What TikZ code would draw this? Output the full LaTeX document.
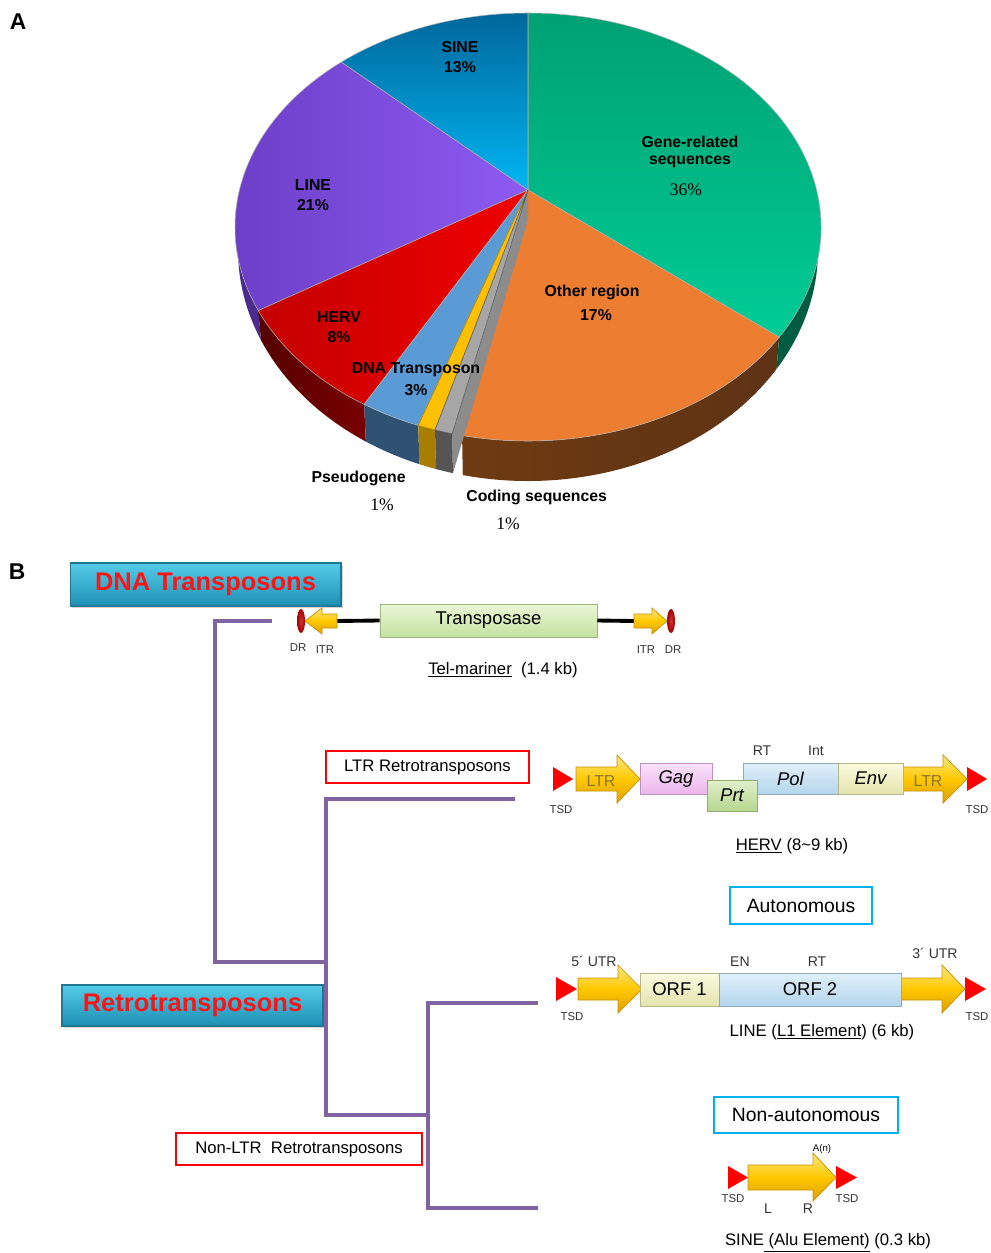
\documentclass[tikz,border=0pt]{standalone}
\usepackage{fontspec}
\setmainfont{Liberation Sans}
\newfontfamily\pctfont{Liberation Serif}
\usetikzlibrary{calc,shadows}

\definecolor{sinetop}{HTML}{00679B}
\definecolor{sinebot}{HTML}{00B6F2}
\definecolor{lineleft}{HTML}{6A3CC4}
\definecolor{lineright}{HTML}{8D5BF2}
\definecolor{lineside}{HTML}{4B2C8E}
\definecolor{hervleft}{HTML}{C40000}
\definecolor{hervright}{HTML}{F00000}
\definecolor{hervside}{HTML}{7A0000}
\definecolor{dnatop}{HTML}{5B9BD5}
\definecolor{dnaside}{HTML}{2F5272}
\definecolor{pseudotop}{HTML}{FFC000}
\definecolor{pseudoside}{HTML}{A87E00}
\definecolor{codetop}{HTML}{A6A6A6}
\definecolor{codeside}{HTML}{555555}
\definecolor{codeface}{HTML}{8C8C8C}
\definecolor{othertop}{HTML}{ED7D31}
\definecolor{otherside}{HTML}{5E3314}
\definecolor{genetop}{HTML}{00A173}
\definecolor{genebot}{HTML}{00CC95}
\definecolor{geneside}{HTML}{005C40}
\definecolor{treeline}{HTML}{8064A2}
\definecolor{tealtop}{HTML}{55CBE8}
\definecolor{tealbot}{HTML}{1E90B4}
\definecolor{tealedge}{HTML}{1D7896}
\definecolor{titlered}{HTML}{FF1414}
\definecolor{classred}{HTML}{FF0000}
\definecolor{autocyan}{HTML}{00B0F0}
\definecolor{arrtop}{HTML}{FFE680}
\definecolor{arrmid}{HTML}{FFC800}
\definecolor{arrbot}{HTML}{DCA000}
\definecolor{arredge}{HTML}{C69000}
\definecolor{tsdred}{HTML}{FF0000}
\definecolor{drred}{HTML}{C00000}
\definecolor{ltrtext}{HTML}{8A7430}
\definecolor{transtop}{HTML}{EAF7D6}
\definecolor{transbot}{HTML}{C4E2A0}
\definecolor{gagtop}{HTML}{FBE2FB}
\definecolor{gagbot}{HTML}{EBB6EB}
\definecolor{prttop}{HTML}{E0F0CA}
\definecolor{prtbot}{HTML}{B5D78F}
\definecolor{poltop}{HTML}{E0F0FA}
\definecolor{polbot}{HTML}{B4D5EC}
\definecolor{envtop}{HTML}{FAFAE0}
\definecolor{envbot}{HTML}{E4E4AE}

\begin{document}
\begin{tikzpicture}[x=0.02cm,y=0.02cm]
\tikzstyle{every node}+=[inner sep=0pt]
\tikzstyle{plbl}=[font=\bfseries\fontsize{9}{10}\selectfont]
\tikzstyle{ppct}=[font=\pctfont\fontsize{10}{12}\selectfont]
\tikzstyle{panel}=[font=\bfseries\fontsize{13}{15}\selectfont]
\tikzstyle{tree}=[draw=treeline, line width=2pt]
\tikzstyle{tealbox}=[top color=tealtop, bottom color=tealbot, draw=tealedge, line width=0.6pt, text=titlered, font=\bfseries\fontsize{14.5}{16}\selectfont, drop shadow={shadow xshift=1.2pt, shadow yshift=-1.2pt, opacity=0.35}]
\tikzstyle{classbox}=[draw=classred, line width=1.4pt, fill=white, font=\fontsize{9.5}{11}\selectfont]
\tikzstyle{autobox}=[draw=autocyan, line width=1.5pt, fill=white, font=\fontsize{11}{13}\selectfont]
\tikzstyle{gbox}=[line width=0.4pt, minimum height=0.62cm, font=\fontsize{10.5}{12}\selectfont\itshape]
\tikzstyle{yarr}=[top color=arrtop, bottom color=arrbot, middle color=arrmid, draw=arredge, line width=0.4pt]
\tikzstyle{tsd}=[fill=tsdred]
\tikzstyle{lbltiny}=[font=\fontsize{6.5}{8}\selectfont, text=black!80]
\tikzstyle{lblsmall}=[font=\fontsize{8}{9}\selectfont, text=black!80]
\tikzstyle{captxt}=[font=\fontsize{9.5}{11}\selectfont]
\useasboundingbox (0,0) rectangle (990,-1253);

\node[panel] (pA) at (18,-22) {A};
\node[panel] (pB) at (17,-572) {B};

\coordinate (pc) at (528,-227);
\coordinate (pb) at (528,-250);
\coordinate (pa) at (528,-190);

\fill[lineside] ($(pc)+(180:293 and 214)$) arc[start angle=180, end angle=203, x radius=293, y radius=214] -- ($(pb)+(203:290 and 231)$) arc[start angle=203, end angle=180, x radius=290, y radius=231] -- cycle;
\shade[left color=hervside!70!black, right color=hervside] ($(pc)+(203:293 and 214)$) arc[start angle=203, end angle=236, x radius=293, y radius=214] -- ($(pb)+(236:290 and 231)$) arc[start angle=236, end angle=203, x radius=290, y radius=231] -- cycle;
\fill[dnaside] ($(pc)+(236:293 and 214)$) arc[start angle=236, end angle=248, x radius=293, y radius=214] -- ($(pb)+(248:290 and 231)$) arc[start angle=248, end angle=236, x radius=290, y radius=231] -- cycle;
\shade[left color=otherside!90!orange, right color=otherside] ($(pc)+(257:293 and 214)$) arc[start angle=257, end angle=329, x radius=293, y radius=214] -- ($(pb)+(329:290 and 231)$) arc[start angle=329, end angle=257, x radius=290, y radius=231] -- cycle;
\fill[geneside] ($(pc)+(329:293 and 214)$) arc[start angle=329, end angle=360, x radius=293, y radius=214] -- ($(pb)+(360:290 and 231)$) arc[start angle=360, end angle=329, x radius=290, y radius=231] -- cycle;

\shadedraw[top color=genetop, bottom color=genebot, draw=black!30, line width=0.3pt] (pa) -- ($(pc)+(329:293 and 214)$) arc[start angle=329, end angle=450, x radius=293, y radius=214] -- cycle;
\shadedraw[top color=sinetop, bottom color=sinebot, draw=black!30, line width=0.3pt] (pa) -- ($(pc)+(90:293 and 214)$) arc[start angle=90, end angle=129.6, x radius=293, y radius=214] -- cycle;
\shadedraw[left color=lineleft, right color=lineright, draw=black!30, line width=0.3pt] (pa) -- ($(pc)+(129.6:293 and 214)$) arc[start angle=129.6, end angle=203, x radius=293, y radius=214] -- cycle;
\shadedraw[left color=hervleft, right color=hervright, draw=black!30, line width=0.3pt] (pa) -- ($(pc)+(203:293 and 214)$) arc[start angle=203, end angle=236, x radius=293, y radius=214] -- cycle;
\filldraw[fill=dnatop, draw=black!30, line width=0.3pt] (pa) -- ($(pc)+(236:293 and 214)$) arc[start angle=236, end angle=248, x radius=293, y radius=214] -- cycle;
\filldraw[fill=othertop, draw=black!30, line width=0.3pt] (pa) -- ($(pc)+(257:293 and 214)$) arc[start angle=257, end angle=329, x radius=293, y radius=214] -- cycle;

\begin{scope}[shift={(-6,-33)}]
\fill[pseudoside] ($(pc)+(248:293 and 214)$) arc[start angle=248, end angle=251.5, x radius=293, y radius=214] -- ($(pb)+(251.5:290 and 231)$) arc[start angle=251.5, end angle=248, x radius=290, y radius=231] -- cycle;
\filldraw[fill=pseudotop, draw=pseudoside, line width=0.3pt] (pa) -- ($(pc)+(248:293 and 214)$) arc[start angle=248, end angle=251.5, x radius=293, y radius=214] -- cycle;
\end{scope}
\begin{scope}[shift={(-2,-42)}]
\fill[codeface] (pa) -- ($(pc)+(255:293 and 214)$) -- ($(pb)+(255:290 and 231)$) -- ($(pa)+(0,-30)$) -- cycle;
\fill[codeside] ($(pc)+(251.5:293 and 214)$) arc[start angle=251.5, end angle=255, x radius=293, y radius=214] -- ($(pb)+(255:290 and 231)$) arc[start angle=255, end angle=251.5, x radius=290, y radius=231] -- cycle;
\filldraw[fill=codetop, draw=codeside, line width=0.3pt] (pa) -- ($(pc)+(251.5:293 and 214)$) arc[start angle=251.5, end angle=255, x radius=293, y radius=214] -- cycle;
\end{scope}

\node[plbl] (sine) at (460,-47) {SINE};
\node[plbl] (sinep) at (460,-67) {13\%};
\node[plbl] (gene) at (690,-142) {Gene-related};
\node[plbl] (gene2) at (690,-162) {sequences};
\node[ppct] (genep) at (686,-190) {36\%};
\node[plbl] (line) at (313,-185) {LINE};
\node[plbl] (linep) at (313,-205) {21\%};
\node[plbl] (other) at (592,-292) {Other region};
\node[plbl] (otherp) at (596,-315) {17\%};
\node[plbl] (herv) at (339,-317) {HERV};
\node[plbl] (hervp) at (339,-337) {8\%};
\node[plbl] (dna) at (416,-370) {DNA Transposon};
\node[plbl] (dnap) at (416,-390) {3\%};
\node[plbl, anchor=east] (pseudo) at (406,-478) {Pseudogene};
\node[ppct] (pseudop) at (382,-505) {1\%};
\node[plbl, anchor=west] (coding) at (466,-497) {Coding sequences};
\node[ppct] (codingp) at (508,-524) {1\%};

\node[tealbox, minimum width=5.42cm, minimum height=0.86cm] (dnat) at (205.5,-584.5) {DNA Transposons};
\node[tealbox, minimum width=5.22cm, minimum height=0.82cm] (retro) at (192.5,-1005.5) {Retrotransposons};
\node[classbox, minimum width=4.06cm, minimum height=0.64cm] (ltrr) at (427.5,-767) {LTR Retrotransposons};
\node[classbox, minimum width=4.92cm, minimum height=0.64cm] (nonltr) at (299,-1149) {Non-LTR\ \ Retrotransposons};
\node[autobox, minimum width=2.84cm, minimum height=0.74cm] (auto) at (801,-905.5) {Autonomous};
\node[autobox, minimum width=3.68cm, minimum height=0.72cm] (nonauto) at (806,-1115) {Non-autonomous};

\coordinate (d1) at (272,-621);
\coordinate (d2) at (215,-621);
\coordinate (d3) at (215,-962);
\coordinate (d4) at (326,-962);
\coordinate (m1) at (515,-799);
\coordinate (m2) at (326,-799);
\coordinate (m3) at (326,-1115);
\coordinate (m4) at (428,-1115);
\coordinate (n1) at (538,-1003);
\coordinate (n2) at (428,-1003);
\coordinate (n3) at (428,-1208);
\coordinate (n4) at (538,-1208);
\draw[tree] (d1) -- (d2) -- (d3) -- (d4);
\draw[tree] (m1) -- (m2) -- (m3) -- (m4);
\draw[tree] (n1) -- (n2) -- (n3) -- (n4);

\node[gbox, top color=transtop, bottom color=transbot, draw=transbot!80!black, minimum width=4.34cm, minimum height=0.66cm, font=\fontsize{10.5}{12}\selectfont] (tps) at (488.5,-620.5) {Transposase};
\coordinate (itrl) at (337,-621);
\coordinate (itrr) at (634,-621);
\draw[line width=2.2pt] (itrl) -- (tps.west);
\draw[line width=2.2pt] (tps.east) -- (itrr);
\shadedraw[yarr] (337,-614) -- (322,-614) -- (322,-608) -- (305,-621) -- (322,-634) -- (322,-628) -- (337,-628) -- cycle;
\shadedraw[yarr] (634,-614) -- (652,-614) -- (652,-608) -- (667,-621) -- (652,-634) -- (652,-628) -- (634,-628) -- cycle;
\shade[inner color=drred!80!white, outer color=drred!85!black] (301,-621) ellipse[x radius=4, y radius=12];
\shade[inner color=drred!80!white, outer color=drred!85!black] (671,-621) ellipse[x radius=4, y radius=12];
\node[lbltiny] (drl) at (298,-648) {DR};
\node[lbltiny] (itrlt) at (325,-650) {ITR};
\node[lbltiny] (itrrt) at (646,-650) {ITR};
\node[lbltiny] (drr) at (673,-650) {DR};
\node[captxt] (telm) at (503,-670) {\underline{Tel-mariner}\ \ (1.4 kb)};

\fill[tsd] (553,-767) -- (573,-779) -- (553,-791) -- cycle;
\fill[tsd] (967,-767) -- (987,-779) -- (967,-791) -- cycle;
\shadedraw[yarr] (576,-767) -- (617,-767) -- (617,-755) -- (640,-779) -- (617,-803) -- (617,-791) -- (576,-791) -- cycle;
\shadedraw[yarr] (903,-767) -- (943,-767) -- (943,-755) -- (967,-779) -- (943,-803) -- (943,-791) -- (903,-791) -- cycle;
\node[font=\fontsize{9}{10}\selectfont, text=ltrtext] (ltr1) at (601,-781) {LTR};
\node[font=\fontsize{9}{10}\selectfont, text=ltrtext] (ltr2) at (928,-781) {LTR};
\node[gbox, top color=gagtop, bottom color=gagbot, draw=gagbot!80!black, minimum width=1.44cm] (gag) at (676,-778.5) {Gag};
\node[gbox, top color=poltop, bottom color=polbot, draw=polbot!80!black, minimum width=1.9cm] (pol) at (790.5,-778.5) {Pol};
\node[gbox, top color=envtop, bottom color=envbot, draw=envbot!80!black, minimum width=1.3cm] (env) at (870.5,-778.5) {Env};
\node[gbox, top color=prttop, bottom color=prtbot, draw=prtbot!80!black, minimum width=1.0cm] (prt) at (732,-795.5) {Prt};
\node[lblsmall] (rt1) at (762,-751) {RT};
\node[lblsmall] (int) at (816,-751) {Int};
\node[lbltiny] (tsd1) at (561,-810) {TSD};
\node[lbltiny] (tsd2) at (977,-810) {TSD};
\node[captxt] (hervc) at (792,-846) {\underline{HERV} (8\textasciitilde 9 kb)};

\fill[tsd] (556,-977) -- (577,-989) -- (556,-1001) -- cycle;
\fill[tsd] (965,-977) -- (986,-989) -- (965,-1001) -- cycle;
\shadedraw[yarr] (578,-978) -- (618,-978) -- (618,-965) -- (642,-989) -- (618,-1013) -- (618,-1000) -- (578,-1000) -- cycle;
\shadedraw[yarr] (901,-978) -- (942,-978) -- (942,-965) -- (965,-989) -- (942,-1013) -- (942,-1000) -- (901,-1000) -- cycle;
\node[gbox, top color=envtop, bottom color=envbot, draw=envbot!80!black, minimum width=1.58cm, minimum height=0.66cm, font=\fontsize{10.5}{12}\selectfont] (orf1) at (679.5,-989.5) {ORF 1};
\node[gbox, top color=poltop, bottom color=polbot, draw=polbot!80!black, minimum width=3.64cm, minimum height=0.66cm, font=\fontsize{10.5}{12}\selectfont] (orf2) at (810,-989.5) {ORF 2};
\node[lblsmall] (utr5) at (594,-961) {5´ UTR};
\node[lblsmall] (en) at (740,-962) {EN};
\node[lblsmall] (rt2) at (817,-962) {RT};
\node[lblsmall] (utr3) at (935,-953) {3´ UTR};
\node[lbltiny] (tsd3) at (572,-1017) {TSD};
\node[lbltiny] (tsd4) at (977,-1017) {TSD};
\node[captxt] (linec) at (822,-1032) {LINE (\underline{L1 Element}) (6 kb)};

\fill[tsd] (728,-1166) -- (748,-1177.5) -- (728,-1189) -- cycle;
\fill[tsd] (836,-1166) -- (857,-1177.5) -- (836,-1189) -- cycle;
\shadedraw[yarr] (748,-1165) -- (813,-1165) -- (813,-1153) -- (836,-1177.5) -- (813,-1201) -- (813,-1190) -- (748,-1190) -- cycle;
\node[font=\fontsize{5.5}{6}\selectfont] (an) at (822,-1149) {A(n)};
\node[lbltiny] (tsd5) at (733,-1199) {TSD};
\node[lbltiny] (tsd6) at (847,-1199) {TSD};
\node[lblsmall] (sl) at (768,-1209) {L};
\node[lblsmall] (sr) at (808,-1209) {R};
\node[captxt] (sinec) at (828,-1243) {SINE\underline{ (Alu Element)} (0.3 kb)};
\end{tikzpicture}
\end{document}
